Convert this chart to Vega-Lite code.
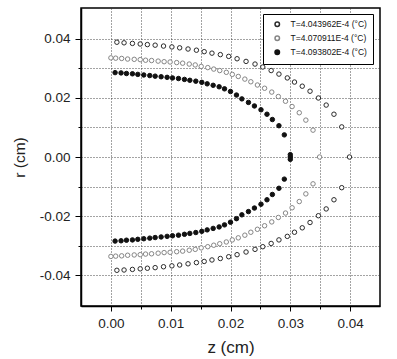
{
"$schema": "https://vega.github.io/schema/vega-lite/v6.json",
"width": 299, "height": 298,
"autosize": {"type": "none"},
"padding": {"left": 81, "top": 8, "right": 17, "bottom": 53},
"background": "white",
"config": {"view": {"stroke": "black", "strokeWidth": 1.5}, "font": "Liberation Sans"},
"data": {"values": [
{"T":"4.043962E-4","z":0.0010,"r":0.0389},{"T":"4.043962E-4","z":0.0022,"r":0.0387},{"T":"4.043962E-4","z":0.0036,"r":0.0385},{"T":"4.043962E-4","z":0.0049,"r":0.0383},{"T":"4.043962E-4","z":0.0061,"r":0.0381},{"T":"4.043962E-4","z":0.0074,"r":0.0379},{"T":"4.043962E-4","z":0.0088,"r":0.0376},{"T":"4.043962E-4","z":0.0102,"r":0.0373},{"T":"4.043962E-4","z":0.0115,"r":0.0370},{"T":"4.043962E-4","z":0.0129,"r":0.0366},{"T":"4.043962E-4","z":0.0143,"r":0.0362},{"T":"4.043962E-4","z":0.0156,"r":0.0357},{"T":"4.043962E-4","z":0.0169,"r":0.0352},{"T":"4.043962E-4","z":0.0183,"r":0.0347},{"T":"4.043962E-4","z":0.0197,"r":0.0341},{"T":"4.043962E-4","z":0.0211,"r":0.0333},{"T":"4.043962E-4","z":0.0226,"r":0.0324},{"T":"4.043962E-4","z":0.0241,"r":0.0315},{"T":"4.043962E-4","z":0.0254,"r":0.0305},{"T":"4.043962E-4","z":0.0268,"r":0.0293},{"T":"4.043962E-4","z":0.0281,"r":0.0281},{"T":"4.043962E-4","z":0.0295,"r":0.0268},{"T":"4.043962E-4","z":0.0307,"r":0.0254},{"T":"4.043962E-4","z":0.0320,"r":0.0240},{"T":"4.043962E-4","z":0.0333,"r":0.0223},{"T":"4.043962E-4","z":0.0347,"r":0.0200},{"T":"4.043962E-4","z":0.0360,"r":0.0176},{"T":"4.043962E-4","z":0.0373,"r":0.0145},{"T":"4.043962E-4","z":0.0386,"r":0.0102},{"T":"4.043962E-4","z":0.0399,"r":0.0000},
{"T":"4.043962E-4","z":0.0010,"r":-0.0384},{"T":"4.043962E-4","z":0.0022,"r":-0.0383},{"T":"4.043962E-4","z":0.0036,"r":-0.0381},{"T":"4.043962E-4","z":0.0049,"r":-0.0379},{"T":"4.043962E-4","z":0.0061,"r":-0.0377},{"T":"4.043962E-4","z":0.0074,"r":-0.0375},{"T":"4.043962E-4","z":0.0088,"r":-0.0372},{"T":"4.043962E-4","z":0.0102,"r":-0.0369},{"T":"4.043962E-4","z":0.0115,"r":-0.0366},{"T":"4.043962E-4","z":0.0129,"r":-0.0362},{"T":"4.043962E-4","z":0.0143,"r":-0.0358},{"T":"4.043962E-4","z":0.0156,"r":-0.0354},{"T":"4.043962E-4","z":0.0169,"r":-0.0349},{"T":"4.043962E-4","z":0.0183,"r":-0.0344},{"T":"4.043962E-4","z":0.0197,"r":-0.0338},{"T":"4.043962E-4","z":0.0211,"r":-0.0331},{"T":"4.043962E-4","z":0.0226,"r":-0.0322},{"T":"4.043962E-4","z":0.0241,"r":-0.0313},{"T":"4.043962E-4","z":0.0254,"r":-0.0304},{"T":"4.043962E-4","z":0.0268,"r":-0.0293},{"T":"4.043962E-4","z":0.0281,"r":-0.0281},{"T":"4.043962E-4","z":0.0295,"r":-0.0269},{"T":"4.043962E-4","z":0.0307,"r":-0.0255},{"T":"4.043962E-4","z":0.0320,"r":-0.0240},{"T":"4.043962E-4","z":0.0333,"r":-0.0222},{"T":"4.043962E-4","z":0.0347,"r":-0.0199},{"T":"4.043962E-4","z":0.0360,"r":-0.0176},{"T":"4.043962E-4","z":0.0373,"r":-0.0145},{"T":"4.043962E-4","z":0.0386,"r":-0.0104},
{"T":"4.070911E-4","z":0.0000,"r":0.0336},{"T":"4.070911E-4","z":0.0008,"r":0.0335},{"T":"4.070911E-4","z":0.0018,"r":0.0334},{"T":"4.070911E-4","z":0.0028,"r":0.0332},{"T":"4.070911E-4","z":0.0039,"r":0.0331},{"T":"4.070911E-4","z":0.0049,"r":0.0330},{"T":"4.070911E-4","z":0.0058,"r":0.0328},{"T":"4.070911E-4","z":0.0068,"r":0.0327},{"T":"4.070911E-4","z":0.0079,"r":0.0325},{"T":"4.070911E-4","z":0.0089,"r":0.0323},{"T":"4.070911E-4","z":0.0099,"r":0.0322},{"T":"4.070911E-4","z":0.0110,"r":0.0320},{"T":"4.070911E-4","z":0.0120,"r":0.0318},{"T":"4.070911E-4","z":0.0131,"r":0.0315},{"T":"4.070911E-4","z":0.0141,"r":0.0312},{"T":"4.070911E-4","z":0.0151,"r":0.0307},{"T":"4.070911E-4","z":0.0162,"r":0.0303},{"T":"4.070911E-4","z":0.0172,"r":0.0298},{"T":"4.070911E-4","z":0.0182,"r":0.0293},{"T":"4.070911E-4","z":0.0193,"r":0.0287},{"T":"4.070911E-4","z":0.0203,"r":0.0280},{"T":"4.070911E-4","z":0.0213,"r":0.0273},{"T":"4.070911E-4","z":0.0224,"r":0.0264},{"T":"4.070911E-4","z":0.0234,"r":0.0255},{"T":"4.070911E-4","z":0.0245,"r":0.0244},{"T":"4.070911E-4","z":0.0257,"r":0.0233},{"T":"4.070911E-4","z":0.0269,"r":0.0220},{"T":"4.070911E-4","z":0.0280,"r":0.0205},{"T":"4.070911E-4","z":0.0292,"r":0.0189},{"T":"4.070911E-4","z":0.0303,"r":0.0171},{"T":"4.070911E-4","z":0.0315,"r":0.0150},{"T":"4.070911E-4","z":0.0326,"r":0.0125},{"T":"4.070911E-4","z":0.0338,"r":0.0091},{"T":"4.070911E-4","z":0.0349,"r":0.0000},
{"T":"4.070911E-4","z":0.0000,"r":-0.0337},{"T":"4.070911E-4","z":0.0008,"r":-0.0336},{"T":"4.070911E-4","z":0.0018,"r":-0.0335},{"T":"4.070911E-4","z":0.0028,"r":-0.0333},{"T":"4.070911E-4","z":0.0039,"r":-0.0332},{"T":"4.070911E-4","z":0.0049,"r":-0.0331},{"T":"4.070911E-4","z":0.0058,"r":-0.0329},{"T":"4.070911E-4","z":0.0068,"r":-0.0328},{"T":"4.070911E-4","z":0.0079,"r":-0.0326},{"T":"4.070911E-4","z":0.0089,"r":-0.0324},{"T":"4.070911E-4","z":0.0099,"r":-0.0323},{"T":"4.070911E-4","z":0.0110,"r":-0.0321},{"T":"4.070911E-4","z":0.0120,"r":-0.0319},{"T":"4.070911E-4","z":0.0131,"r":-0.0316},{"T":"4.070911E-4","z":0.0141,"r":-0.0313},{"T":"4.070911E-4","z":0.0151,"r":-0.0308},{"T":"4.070911E-4","z":0.0162,"r":-0.0304},{"T":"4.070911E-4","z":0.0172,"r":-0.0299},{"T":"4.070911E-4","z":0.0182,"r":-0.0294},{"T":"4.070911E-4","z":0.0193,"r":-0.0288},{"T":"4.070911E-4","z":0.0203,"r":-0.0281},{"T":"4.070911E-4","z":0.0213,"r":-0.0274},{"T":"4.070911E-4","z":0.0224,"r":-0.0265},{"T":"4.070911E-4","z":0.0234,"r":-0.0255},{"T":"4.070911E-4","z":0.0245,"r":-0.0245},{"T":"4.070911E-4","z":0.0257,"r":-0.0233},{"T":"4.070911E-4","z":0.0269,"r":-0.0220},{"T":"4.070911E-4","z":0.0280,"r":-0.0205},{"T":"4.070911E-4","z":0.0292,"r":-0.0190},{"T":"4.070911E-4","z":0.0303,"r":-0.0172},{"T":"4.070911E-4","z":0.0315,"r":-0.0151},{"T":"4.070911E-4","z":0.0326,"r":-0.0125},{"T":"4.070911E-4","z":0.0338,"r":-0.0091},
{"T":"4.093802E-4","z":0.0007,"r":0.0286},{"T":"4.093802E-4","z":0.0017,"r":0.0285},{"T":"4.093802E-4","z":0.0026,"r":0.0283},{"T":"4.093802E-4","z":0.0036,"r":0.0282},{"T":"4.093802E-4","z":0.0045,"r":0.0280},{"T":"4.093802E-4","z":0.0055,"r":0.0278},{"T":"4.093802E-4","z":0.0065,"r":0.0276},{"T":"4.093802E-4","z":0.0074,"r":0.0274},{"T":"4.093802E-4","z":0.0084,"r":0.0272},{"T":"4.093802E-4","z":0.0094,"r":0.0270},{"T":"4.093802E-4","z":0.0103,"r":0.0268},{"T":"4.093802E-4","z":0.0113,"r":0.0266},{"T":"4.093802E-4","z":0.0123,"r":0.0263},{"T":"4.093802E-4","z":0.0132,"r":0.0260},{"T":"4.093802E-4","z":0.0142,"r":0.0257},{"T":"4.093802E-4","z":0.0152,"r":0.0253},{"T":"4.093802E-4","z":0.0161,"r":0.0248},{"T":"4.093802E-4","z":0.0171,"r":0.0243},{"T":"4.093802E-4","z":0.0181,"r":0.0238},{"T":"4.093802E-4","z":0.0190,"r":0.0231},{"T":"4.093802E-4","z":0.0200,"r":0.0222},{"T":"4.093802E-4","z":0.0210,"r":0.0210},{"T":"4.093802E-4","z":0.0219,"r":0.0197},{"T":"4.093802E-4","z":0.0230,"r":0.0185},{"T":"4.093802E-4","z":0.0240,"r":0.0173},{"T":"4.093802E-4","z":0.0251,"r":0.0160},{"T":"4.093802E-4","z":0.0261,"r":0.0145},{"T":"4.093802E-4","z":0.0270,"r":0.0127},{"T":"4.093802E-4","z":0.0281,"r":0.0106},{"T":"4.093802E-4","z":0.0290,"r":0.0075},
{"T":"4.093802E-4","z":0.0300,"r":0.0008},{"T":"4.093802E-4","z":0.0300,"r":0.0000},{"T":"4.093802E-4","z":0.0300,"r":-0.0008},
{"T":"4.093802E-4","z":0.0007,"r":-0.0285},{"T":"4.093802E-4","z":0.0017,"r":-0.0284},{"T":"4.093802E-4","z":0.0026,"r":-0.0282},{"T":"4.093802E-4","z":0.0036,"r":-0.0281},{"T":"4.093802E-4","z":0.0045,"r":-0.0279},{"T":"4.093802E-4","z":0.0055,"r":-0.0277},{"T":"4.093802E-4","z":0.0065,"r":-0.0275},{"T":"4.093802E-4","z":0.0074,"r":-0.0273},{"T":"4.093802E-4","z":0.0084,"r":-0.0271},{"T":"4.093802E-4","z":0.0094,"r":-0.0269},{"T":"4.093802E-4","z":0.0103,"r":-0.0267},{"T":"4.093802E-4","z":0.0113,"r":-0.0265},{"T":"4.093802E-4","z":0.0123,"r":-0.0262},{"T":"4.093802E-4","z":0.0132,"r":-0.0259},{"T":"4.093802E-4","z":0.0142,"r":-0.0256},{"T":"4.093802E-4","z":0.0152,"r":-0.0252},{"T":"4.093802E-4","z":0.0161,"r":-0.0247},{"T":"4.093802E-4","z":0.0171,"r":-0.0242},{"T":"4.093802E-4","z":0.0181,"r":-0.0237},{"T":"4.093802E-4","z":0.0190,"r":-0.0230},{"T":"4.093802E-4","z":0.0200,"r":-0.0221},{"T":"4.093802E-4","z":0.0210,"r":-0.0209},{"T":"4.093802E-4","z":0.0219,"r":-0.0196},{"T":"4.093802E-4","z":0.0230,"r":-0.0185},{"T":"4.093802E-4","z":0.0240,"r":-0.0173},{"T":"4.093802E-4","z":0.0251,"r":-0.0160},{"T":"4.093802E-4","z":0.0261,"r":-0.0145},{"T":"4.093802E-4","z":0.0270,"r":-0.0127},{"T":"4.093802E-4","z":0.0281,"r":-0.0106},{"T":"4.093802E-4","z":0.0290,"r":-0.0075}
]},
"mark": {"type": "point", "filled": true, "strokeWidth": 1, "opacity": 1},
"encoding": {
"x": {"field": "z", "type": "quantitative",
  "scale": {"domain": [-0.005, 0.045], "nice": false, "zero": false},
  "axis": {"values": [0, 0.005, 0.01, 0.015, 0.02, 0.025, 0.03, 0.035, 0.04],
    "title": "z (cm)", "titleFontSize": 17, "titleFontWeight": "normal", "titleColor": "#222", "titlePadding": 10,
    "labelFontSize": 13.5, "labelColor": "#222", "labelPadding": 5,
    "labelExpr": "round(datum.value*1000) % 10 == 0 ? format(datum.value, '.2f') : ''",
    "tickSize": {"condition": {"test": "round(datum.value*1000) % 10 == 0", "value": 5}, "value": 3},
    "tickColor": "black", "domainColor": "black", "domainWidth": 1.5,
    "grid": true, "gridColor": "#333", "gridDash": [1, 2], "gridOpacity": 0.9}},
"y": {"field": "r", "type": "quantitative",
  "scale": {"domain": [-0.0505, 0.0505], "nice": false, "zero": false},
  "axis": {"values": [-0.04, -0.03, -0.02, -0.01, 0, 0.01, 0.02, 0.03, 0.04],
    "title": "r (cm)", "titleFontSize": 15.5, "titleFontWeight": "normal", "titleColor": "#222", "titlePadding": 12,
    "labelFontSize": 13.5, "labelColor": "#222", "labelPadding": 5,
    "labelExpr": "round(datum.value*100) % 2 == 0 ? replace(format(datum.value, '.2f'), '\u2212', '-') : ''",
    "tickSize": {"condition": {"test": "round(datum.value*100) % 2 == 0", "value": 6}, "value": 3},
    "tickColor": "black", "domainColor": "black", "domainWidth": 1.5,
    "grid": true, "gridColor": "#333", "gridDash": [1, 2], "gridOpacity": 0.9}},
"fill": {"field": "T", "type": "nominal",
  "scale": {"domain": ["4.043962E-4", "4.070911E-4", "4.093802E-4"], "range": ["white", "white", "#111"]},
  "legend": {"orient": "none", "legendX": 182, "legendY": 6, "title": null, "strokeColor": "black", "fillColor": "white", "padding": 6, "labelFontSize": 8.5, "labelColor": "#111", "rowPadding": 3, "labelOffset": 9, "symbolOffset": 4,
    "labelExpr": "'T=' + datum.label + ' (°C)'"}},
"stroke": {"field": "T", "type": "nominal",
  "scale": {"domain": ["4.043962E-4", "4.070911E-4", "4.093802E-4"], "range": ["#2a2a2a", "#858585", "#111"]},
  "legend": {"orient": "none", "legendX": 182, "legendY": 6, "title": null, "strokeColor": "black", "fillColor": "white", "padding": 6, "labelFontSize": 8.5, "labelColor": "#111", "rowPadding": 3, "labelOffset": 9, "symbolOffset": 4,
    "labelExpr": "'T=' + datum.label + ' (°C)'"}},
"size": {"field": "T", "type": "nominal",
  "scale": {"domain": ["4.043962E-4", "4.070911E-4", "4.093802E-4"], "range": [20, 20, 14]},
  "legend": {"orient": "none", "legendX": 182, "legendY": 6, "title": null, "strokeColor": "black", "fillColor": "white", "padding": 6, "labelFontSize": 8.5, "labelColor": "#111", "rowPadding": 3, "labelOffset": 9, "symbolOffset": 4,
    "labelExpr": "'T=' + datum.label + ' (°C)'"}}
}
}
